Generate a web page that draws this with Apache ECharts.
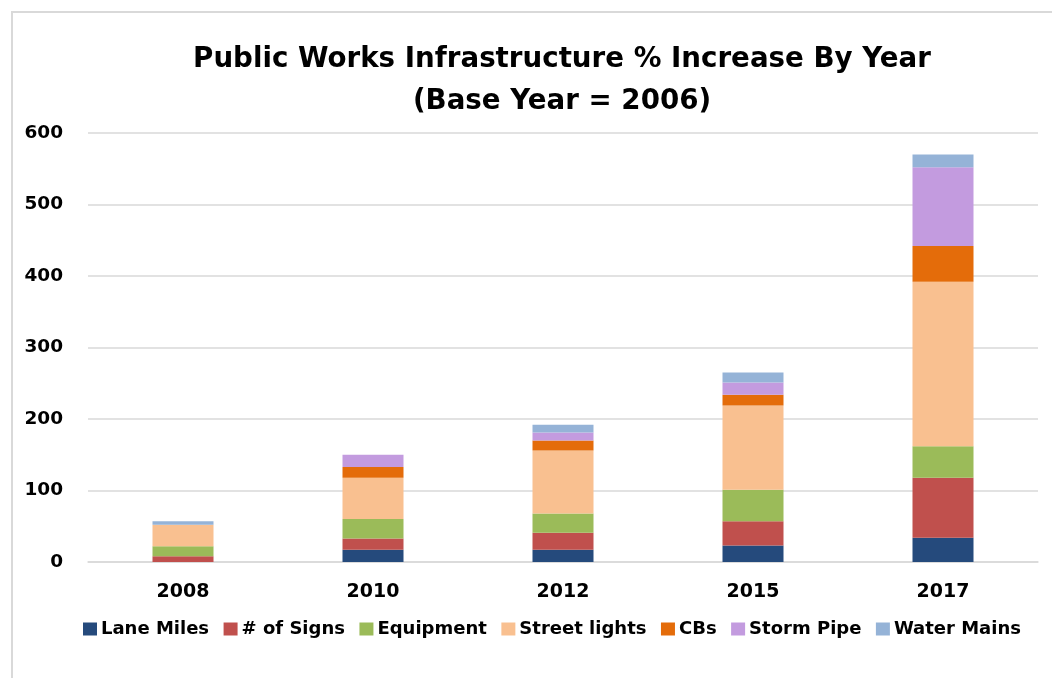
<!DOCTYPE html>
<html><head><meta charset="utf-8">
<script src="https://cdn.jsdelivr.net/npm/echarts@6/dist/echarts.min.js"></script>
<style>html,body{margin:0;padding:0;background:#fff}#c{width:1052px;height:678px}</style>
</head><body><div id="c"></div>
<script>
const years = ['2008','2010','2012','2015','2017'];
const laneMiles   = [0, 17, 17, 23, 34];
const numSigns    = [8, 16, 24, 34, 84];
const equipment   = [14, 27, 27, 44, 44];
const streetLights= [30, 58, 88, 118, 230];
const cbs         = [0, 15, 14, 15, 50];
const stormPipe   = [0, 17, 11, 17, 110];
const waterMains  = [5, 0, 11, 14, 18];
const seriesNames = ['Lane Miles','# of Signs','Equipment','Street lights','CBs','Storm Pipe','Water Mains'];
const seriesData = [laneMiles,numSigns,equipment,streetLights,cbs,stormPipe,waterMains];
const colors = ['#254A7C','#C0504D','#9BBB59','#F9C090','#E46C0A','#C39BDF','#95B3D7'];

const chart = echarts.init(document.getElementById('c'));
const font = '"DejaVu Sans", sans-serif';
chart.setOption({
  animation:false,
  color: colors,
  title:{
    text:'Public Works Infrastructure % Increase By Year\n(Base Year = 2006)',
    left:557, textAlign:'center', top:34,
    textStyle:{fontFamily:font,fontWeight:'bold',fontSize:27.7,lineHeight:42,color:'#000'}
  },
  graphic:[{type:'rect',shape:{x:12,y:12,width:1100,height:700},style:{fill:'none',stroke:'#d9d9d9',lineWidth:2},silent:true}],
  legend:{
    top:615, left:78,
    itemWidth:14, itemHeight:13, itemGap:14.5,
    icon:'rect',
    textStyle:{fontFamily:font,fontWeight:'bold',fontSize:18,color:'#000',padding:[0,0,0,-1]},
    data: seriesNames
  },
  grid:{left:88,right:14,top:133,bottom:116,containLabel:false},
  xAxis:{
    type:'category', data:years,
    axisLine:{lineStyle:{color:'#d9d9d9',width:1.5}},
    axisTick:{show:false},
    axisLabel:{fontFamily:font,fontWeight:'bold',fontSize:19,color:'#000',margin:21}
  },
  yAxis:{
    type:'value', min:0, max:600, interval:100,
    axisLine:{show:false}, axisTick:{show:false},
    splitLine:{lineStyle:{color:'#d9d9d9',width:1.5}},
    axisLabel:{fontFamily:font,fontWeight:'bold',fontSize:18.5,color:'#000',margin:25}
  },
  series: seriesNames.map((n,i)=>({
    name:n, type:'bar', stack:'total', barWidth:61,
    data: seriesData[i]
  }))
});
</script></body></html>
